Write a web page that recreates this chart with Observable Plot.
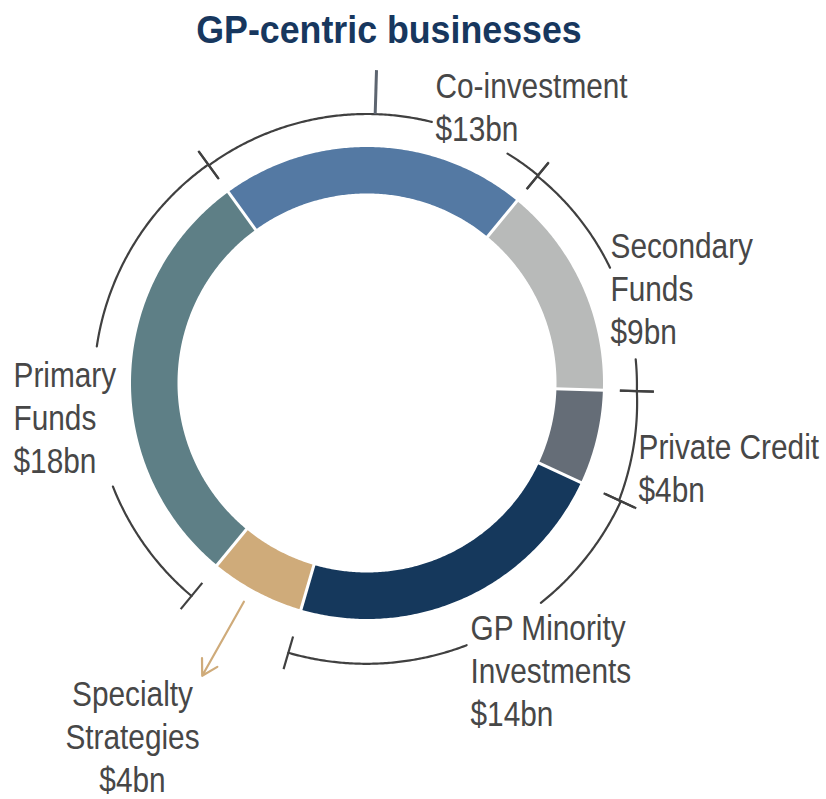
<!DOCTYPE html>
<html>
<head>
<meta charset="utf-8">
<script src="https://cdn.jsdelivr.net/npm/d3@7"></script>
<script src="https://cdn.jsdelivr.net/npm/@observablehq/plot@0.6"></script>
<style>
  html, body { margin: 0; padding: 0; background: #fff; }
  #title {
    width: 777px; height: 58px; line-height: 58px; text-align: center; white-space: nowrap;
  }
  #title span {
    display: inline-block;
    font-family: "Liberation Sans", Arial, sans-serif;
    font-weight: bold; font-size: 39.5px; color: #17375e;
    transform: scaleX(0.905); transform-origin: 50% 50%;
  }
  #chart svg { display: block; }
</style>
</head>
<body>
<div id="title"><span>GP-centric businesses</span></div>
<div id="chart"></div>
<script>
// ---- data ----
const categories = ["Co-investment", "Secondary Funds", "Private Credit", "GP Minority Investments", "Specialty Strategies", "Primary Funds"];
const values = [13, 9, 4, 14, 4, 18];
const valueLabels = ["$13bn", "$9bn", "$4bn", "$14bn", "$4bn", "$18bn"];
const nameLines = ["Co-investment", "Secondary\nFunds", "Private Credit", "GP Minority\nInvestments", "Specialty\nStrategies", "Primary\nFunds"];

// ---- styles / layout ----
const colors = ["#5479a3", "#b8bab9", "#656d77", "#15385c", "#cfab7a", "#5e7f86"];
const FONT = '"Liberation Sans", Arial, sans-serif';
const NARROW = 0.84; // horizontal condensing of label text (reference uses a narrow face)
const startDeg = -36;
const rOuter = 236, rInner = 189.5;
// bracket layout per category: radius at start/end, gaps (deg) hidden behind labels
const bracketLayout = {
  "Co-investment": {r0: 269, r1: 269, gaps: [[14.3, 31.1]]},
  "Secondary Funds": {r0: 268, r1: 270, gaps: [[65, 84.8]]},
  "Private Credit": {r0: 270, r1: 278, gaps: []},
  "GP Minority Investments": {r0: 280, r1: 281, gaps: [[141.7, 159]]},
  "Primary Funds": {r0: 276, r1: 270, gaps: [[248.1, 277.5]]}
};
// label anchors relative to donut centre (x right, y up), last baseline
const labelLayout = {
  "Co-investment": {dx: 68.5, dy: 242.5, anchor: "start"},
  "Secondary Funds": {dx: 243.5, dy: 39.5, anchor: "start"},
  "Private Credit": {dx: 271.5, dy: -118.5, anchor: "start"},
  "GP Minority Investments": {dx: 103.5, dy: -342.5, anchor: "start"},
  "Specialty Strategies": {dx: -234.5, dy: -408.5, anchor: "middle"},
  "Primary Funds": {dx: -353.5, dy: -89.5, anchor: "start"}
};

const rows = categories.map((name, i) => ({name, value: values[i], label: nameLines[i] + "\n" + valueLabels[i]}));
const rad = (d) => d * Math.PI / 180;
const deg = (r) => r * 180 / Math.PI;
const px = (r, a) => r * Math.sin(rad(a));
const py = (r, a) => r * Math.cos(rad(a));

const arcs = d3.pie().sort(null).value(d => d.value)
  .startAngle(rad(startDeg)).endAngle(rad(startDeg + 360))(rows)
  .map(a => ({name: a.data.name, label: a.data.label, a0: deg(a.startAngle), a1: deg(a.endAngle)}));

// slice polygons
const slicePts = [];
for (const s of arcs) {
  const n = Math.ceil((s.a1 - s.a0) / 0.5);
  for (let k = 0; k <= n; k++) { const a = s.a0 + (s.a1 - s.a0) * k / n; slicePts.push({name: s.name, x: px(rOuter, a), y: py(rOuter, a)}); }
  for (let k = n; k >= 0; k--) { const a = s.a0 + (s.a1 - s.a0) * k / n; slicePts.push({name: s.name, x: px(rInner, a), y: py(rInner, a)}); }
}
// separators
const seps = arcs.map(s => ({x1: px(rInner - 2, s.a0), y1: py(rInner - 2, s.a0), x2: px(rOuter + 2, s.a0), y2: py(rOuter + 2, s.a0)}));

// brackets
const bracketPts = [], ticks = [];
let seg = 0;
for (const s of arcs) {
  const L = bracketLayout[s.name];
  if (!L) continue;
  const rAt = (a) => L.r0 + (L.r1 - L.r0) * (a - s.a0) / (s.a1 - s.a0);
  const n = Math.ceil((s.a1 - s.a0) / 0.4);
  let inGap = true;
  for (let k = 0; k <= n; k++) {
    const a = s.a0 + (s.a1 - s.a0) * k / n;
    const hidden = L.gaps.some(([g0, g1]) => a > g0 && a < g1);
    if (hidden) { inGap = true; continue; }
    if (inGap) { seg++; inGap = false; }
    bracketPts.push({seg, x: px(rAt(a), a), y: py(rAt(a), a)});
  }
  for (const a of [s.a0, s.a1]) {
    const r = rAt(a), h = 17;
    ticks.push({x1: px(r - h, a), y1: py(r - h, a), x2: px(r + h, a), y2: py(r + h, a)});
  }
}
// pointer for Co-investment and arrow for Specialty Strategies
const co = arcs.find(d => d.name === "Co-investment");
const coMid = (co.a0 + co.a1) / 2;
const pointer = [{x1: px(269, coMid), y1: py(269, coMid), x2: px(313, coMid), y2: py(313, coMid)}];
const sp = arcs.find(d => d.name === "Specialty Strategies");
const spMid = (sp.a0 + sp.a1) / 2 + 1.5;
const arrow = [{x1: px(251, spMid), y1: py(251, spMid), x2: px(336, spMid), y2: py(336, spMid)}];

const labels = arcs.map(s => ({...labelLayout[s.name], text: s.label}));

const W = 826, H = 741;
const textOpts = {x: "dx", y: "dy", text: "text", lineAnchor: "bottom", lineHeight: 1.21, fontSize: 35.5, fill: "#474747", fontFamily: FONT};
const chart = Plot.plot({
  width: W, height: H,
  margin: 0,
  style: {background: "#fff", fontFamily: FONT},
  x: {domain: [-366.5, 459.5], range: [0, W], axis: null},
  y: {domain: [-416.5, 324.5], range: [H, 0], axis: null},
  color: {domain: categories, range: colors},
  marks: [
    Plot.line(slicePts, {x: "x", y: "y", z: "name", fill: "name", stroke: "none", curve: "linear-closed"}),
    Plot.link(seps, {x1: "x1", y1: "y1", x2: "x2", y2: "y2", stroke: "#fff", strokeWidth: 3}),
    Plot.line(bracketPts, {x: "x", y: "y", z: "seg", stroke: "#404040", strokeWidth: 2.2}),
    Plot.link(ticks, {x1: "x1", y1: "y1", x2: "x2", y2: "y2", stroke: "#404040", strokeWidth: 2.2}),
    Plot.link(pointer, {x1: "x1", y1: "y1", x2: "x2", y2: "y2", stroke: "#5d6570", strokeWidth: 3}),
    Plot.arrow(arrow, {x1: "x1", y1: "y1", x2: "x2", y2: "y2", stroke: "#cfab7a", strokeWidth: 2.2, headLength: 12}),
    Plot.text(labels.filter(d => d.anchor === "start"), {...textOpts, textAnchor: "start"}),
    Plot.text(labels.filter(d => d.anchor === "middle"), {...textOpts, textAnchor: "middle"})
  ]
});
// condense label glyphs horizontally around each text's anchor point
chart.querySelectorAll('g[aria-label="text"] text').forEach(t => {
  const tr = t.getAttribute("transform");
  if (tr) {
    t.setAttribute("transform", tr + ` scale(${NARROW},1)`);
  } else {
    const x = +t.getAttribute("x") || 0, y = +t.getAttribute("y") || 0;
    t.removeAttribute("x"); t.removeAttribute("y");
    t.setAttribute("transform", `translate(${x},${y}) scale(${NARROW},1)`);
  }
});
document.getElementById("chart").appendChild(chart);
</script>
</body>
</html>
